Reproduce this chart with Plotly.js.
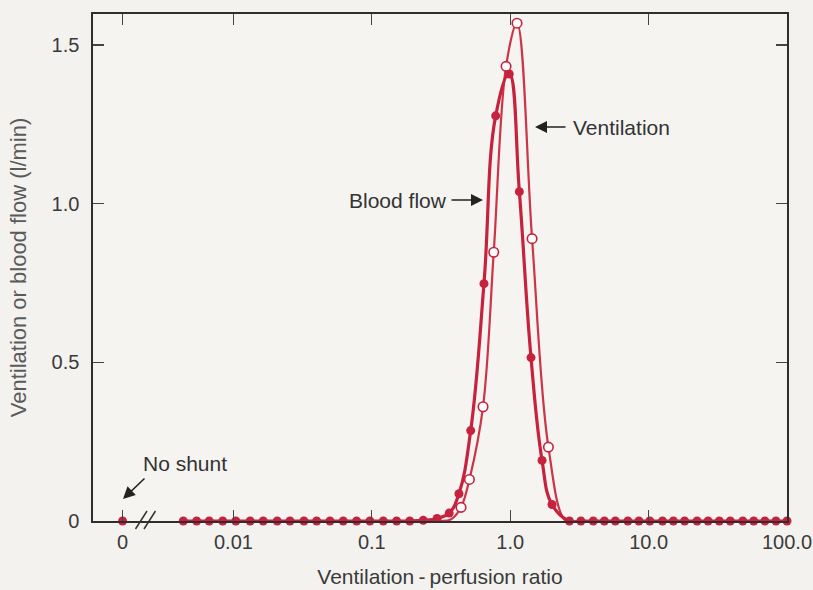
<!DOCTYPE html>
<html>
<head>
<meta charset="utf-8">
<script src="https://cdn.plot.ly/plotly-3.0.1.min.js"></script>
<style>
html,body{margin:0;padding:0;background:#f3f2ef;}
#chart{width:813px;height:590px;}
</style>
</head>
<body>
<div id="chart"></div>
<script>
// ---- Data ----
// Position used on the broken log axis for a V/Q ratio of 0 ("No shunt")
const zeroRatioPosition = 0.00158;

// Blood flow (filled dots): V/Q ratio and flow (l/min)
const bloodRatio = [0.00434, 0.00542, 0.00668, 0.00836, 0.0104, 0.0132, 0.0164, 0.0207, 0.0256, 0.0323,
  0.0399, 0.0498, 0.0621, 0.0776, 0.0968, 0.121, 0.151, 0.188, 0.235, 0.296,
  0.362, 0.426, 0.518, 0.646, 0.785, 0.984, 1.164, 1.413, 1.698, 2.004,
  2.679, 3.24, 3.98, 4.79, 5.75, 7.08, 8.51, 10.2, 12.6, 15.1,
  18.2, 22.4, 26.9, 32.4, 38.9, 47.9, 57.5, 69.2, 83.2, 100];
const bloodFlow = [0, 0, 0, 0, 0, 0, 0, 0, 0, 0,
  0, 0, 0, 0, 0, 0, 0, 0, 0.002, 0.008,
  0.025, 0.086, 0.285, 0.748, 1.277, 1.409, 1.038, 0.515, 0.191, 0.052,
  0, 0, 0, 0, 0, 0, 0, 0, 0, 0,
  0, 0, 0, 0, 0, 0, 0, 0, 0, 0];

// Ventilation (open circles): V/Q ratio and ventilation (l/min)
const ventRatio = [0.441, 0.507, 0.636, 0.760, 0.933, 1.119, 1.438, 1.888];
const ventFlow  = [0.043, 0.131, 0.360, 0.847, 1.433, 1.569, 0.890, 0.233];

// Ventilation curve runs along zero outside the peak
const ventBaseLeftRatio  = [0.00434, 0.30, 0.372];
const ventBaseLeftFlow   = [0, 0, 0.005];
const ventBaseRightRatio = [2.52, 3.2, 100];
const ventBaseRightFlow  = [0, 0, 0];

// No shunt point (V/Q = 0)
const shuntFlow = [0];

// Axis ticks
const xTickVals = [zeroRatioPosition, 0.01, 0.1, 1, 10, 100];
const xTickText = ['0', '0.01', '0.1', '1.0', '10.0', '100.0'];
const yTickVals = [0, 0.5, 1.0, 1.5];
const yTickText = ['0', '0.5', '1.0', '1.5'];

// ---- Styling ----
const red = '#c6223d';
const redLight = '#cc3448';
const font = 'Liberation Sans, Arial, Helvetica, sans-serif';

const ventLineX = ventBaseLeftRatio.concat(ventRatio, ventBaseRightRatio);
const ventLineY = ventBaseLeftFlow.concat(ventFlow, ventBaseRightFlow);

const traces = [
  {
    x: ventLineX, y: ventLineY, mode: 'lines', type: 'scatter',
    line: {color: redLight, width: 2.2, shape: 'spline', smoothing: 1.0},
    hoverinfo: 'skip', showlegend: false
  },
  {
    x: bloodRatio, y: bloodFlow, mode: 'lines', type: 'scatter',
    name: 'Blood flow',
    line: {color: red, width: 3.2, shape: 'spline', smoothing: 1.2},
    showlegend: false
  },
  {
    x: bloodRatio, y: bloodFlow, mode: 'markers', type: 'scatter',
    name: 'Blood flow',
    marker: {color: red, size: 9},
    showlegend: false, cliponaxis: false
  },
  {
    x: ventRatio, y: ventFlow, mode: 'markers', type: 'scatter',
    name: 'Ventilation',
    marker: {color: '#ffffff', size: 9.5, symbol: 'circle', line: {color: red, width: 1.6}},
    showlegend: false, cliponaxis: false
  },
  {
    x: [zeroRatioPosition], y: shuntFlow, mode: 'markers', type: 'scatter',
    name: 'No shunt',
    marker: {color: red, size: 9},
    showlegend: false, cliponaxis: false
  }
];

const W = 694, H = 507, L = 93, T = 14;
function px(xp){ return (xp - L) / W; }
function py(yp){ return (T + H - yp) / H; }

const layout = {
  width: 813, height: 590,
  margin: {l: 93, r: 26, t: 14, b: 69},
  paper_bgcolor: '#f3f2ef',
  plot_bgcolor: '#f5f4f1',
  font: {family: font, size: 20, color: '#3a3a3a'},
  showlegend: false,
  xaxis: {
    type: 'log',
    range: [-3.015, 2.0],
    tickvals: xTickVals, ticktext: xTickText,
    ticks: 'inside', ticklen: 11, tickwidth: 1.2, tickcolor: '#444',
    showline: true, linecolor: '#2e2e2e', linewidth: 1.6, mirror: 'ticks',
    showgrid: false, zeroline: false,
    tickfont: {family: font, size: 20, color: '#3a3a3a'},
    ticklabelstandoff: 2,
    title: {text: 'Ventilation\u2009-\u2009perfusion ratio', font: {family: font, size: 21, color: '#3a3a3a'}, standoff: 18}
  },
  yaxis: {
    range: [0, 1.598],
    tickvals: yTickVals, ticktext: yTickText,
    ticks: 'inside', ticklen: 11, tickwidth: 1.2, tickcolor: '#444',
    showline: true, linecolor: '#2e2e2e', linewidth: 1.6, mirror: 'ticks',
    showgrid: false, zeroline: false,
    tickfont: {family: font, size: 20, color: '#3a3a3a'},
    ticklabelstandoff: 8,
    title: {text: 'Ventilation or blood flow (l/min)', font: {family: font, size: 22, color: '#5a5a5a'}, standoff: 19}
  },
  shapes: [
    {type: 'line', xref: 'paper', yref: 'paper', x0: px(135.5), y0: py(529), x1: px(147), y1: py(511), line: {color: '#333', width: 1.5}},
    {type: 'line', xref: 'paper', yref: 'paper', x0: px(144), y0: py(529), x1: px(155.5), y1: py(511), line: {color: '#333', width: 1.5}}
  ],
  annotations: [
    {xref: 'paper', yref: 'paper', x: px(621), y: py(127), text: 'Ventilation', showarrow: false,
     font: {family: font, size: 21, color: '#333'}, xanchor: 'center', yanchor: 'middle'},
    {xref: 'paper', yref: 'paper', x: px(535), y: py(127), ax: 32, ay: 0, text: '', showarrow: true,
     arrowhead: 2, arrowsize: 1.6, arrowwidth: 1.5, arrowcolor: '#222'},
    {xref: 'paper', yref: 'paper', x: px(398), y: py(200), text: 'Blood flow', showarrow: false,
     font: {family: font, size: 21, color: '#333'}, xanchor: 'center', yanchor: 'middle'},
    {xref: 'paper', yref: 'paper', x: px(483), y: py(200), ax: -33, ay: 0, text: '', showarrow: true,
     arrowhead: 2, arrowsize: 1.6, arrowwidth: 1.5, arrowcolor: '#222'},
    {xref: 'paper', yref: 'paper', x: px(185), y: py(463), text: 'No shunt', showarrow: false,
     font: {family: font, size: 21, color: '#333'}, xanchor: 'center', yanchor: 'middle'},
    {xref: 'paper', yref: 'paper', x: px(123), y: py(499), ax: 23, ay: -22, text: '', showarrow: true,
     arrowhead: 2, arrowsize: 1.6, arrowwidth: 1.5, arrowcolor: '#222'}
  ]
};

Plotly.newPlot('chart', traces, layout, {displayModeBar: false, staticPlot: true});
</script>
</body>
</html>
